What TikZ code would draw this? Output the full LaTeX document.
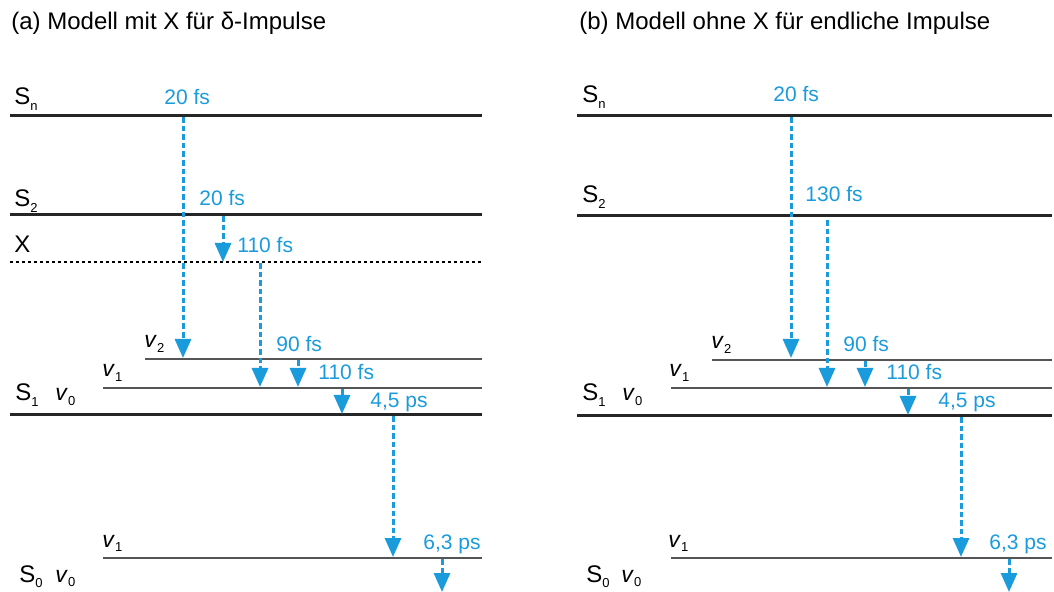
\documentclass[tikz,border=0pt]{standalone}
\usepackage{fontspec}
\setmainfont{Liberation Sans}
\usetikzlibrary{arrows.meta}
\definecolor{decayblue}{HTML}{1A9BDC}
\definecolor{levelgrey}{HTML}{555555}
\newcommand{\lowsub}[1]{\raisebox{-0.4ex}{\fontsize{6.5}{6.5}\selectfont #1}}
\newcommand{\vib}[1]{\textit{v}\lowsub{#1}}

\begin{document}
\begin{tikzpicture}[x=0.5pt, y=-0.5pt, every node/.style={inner sep=0pt, anchor=base west},
                    level/.style={line width=1.5pt, black!85},
                    sublevel/.style={line width=0.9pt, levelgrey},
                    xlevel/.style={line width=1.4pt, dash pattern=on 1.4pt off 1.6pt},
                    decay/.style={decayblue, line width=1.5pt, dash pattern=on 2.8pt off 1.5pt, -{Triangle[width=8pt,length=9.5pt]}},
                    tlbl/.style={text=decayblue, font=\fontsize{10.5}{12}\selectfont},
                    statelbl/.style={font=\fontsize{12}{14}\selectfont},
                    viblbl/.style={font=\fontsize{11.5}{13}\selectfont}]
    \useasboundingbox (0,0) rectangle (1054,592);

    % (a) Modell mit X
    \node (titleA) [font=\fontsize{12}{14}\selectfont] at (11,30) {(a) Modell mit X für δ-Impulse};

    \draw[level] (10,116) -- (482,116);
    \draw[level] (10,215) -- (482,215);
    \draw[xlevel] (10,262) -- (482,262);
    \draw[sublevel] (145,359) -- (482,359);
    \draw[sublevel] (103,388) -- (482,388);
    \draw[level] (10,415) -- (482,415);
    \draw[sublevel] (103,558) -- (482,558);

    \node (aSn) [statelbl] at (14,105) {S\lowsub{n}};
    \node (aS2) [statelbl] at (14,207) {S\lowsub{2}};
    \node (aX) [statelbl] at (14,253) {X};
    \node (aV2) [viblbl] at (144,348) {\vib{2}};
    \node (aV1) [viblbl] at (102,377) {\vib{1}};
    \node (aS1) [statelbl] at (15,401) {S\lowsub{1}};
    \node (aV0) [viblbl] at (55,401) {\vib{0}};
    \node (aV1g) [viblbl] at (102,547) {\vib{1}};
    \node (aS0) [statelbl] at (19,582) {S\lowsub{0}};
    \node (aV0g) [viblbl] at (55,582) {\vib{0}};

    \node (aT1) [tlbl] at (164,105) {20 fs};
    \node (aT2) [tlbl] at (199,206) {20 fs};
    \node (aT3) [tlbl] at (237,253) {110 fs};
    \node (aT4) [tlbl] at (276,352) {90 fs};
    \node (aT5) [tlbl] at (318,380) {110 fs};
    \node (aT6) [tlbl] at (370,408) {4,5 ps};
    \node (aT7) [tlbl] at (423,550) {6,3 ps};

    \coordinate (aSnD) at (183,117);  \coordinate (aV2D) at (183,358);
    \coordinate (aS2D) at (223,216);  \coordinate (aXD) at (223,262);
    \coordinate (aXE) at (260,263);   \coordinate (aV1D) at (260,387);
    \coordinate (aV2E) at (298,360);  \coordinate (aV1E) at (298,387);
    \coordinate (aV1F) at (342,389);  \coordinate (aS1D) at (342,414);
    \coordinate (aS1E) at (393,416);  \coordinate (aS0D) at (393,557);
    \coordinate (aS0E) at (442,559);  \coordinate (aEnd) at (442,592);

    \draw[decay] (aSnD) -- (aV2D);
    \draw[decay] (aS2D) -- (aXD);
    \draw[decay] (aXE) -- (aV1D);
    \draw[decay] (aV2E) -- (aV1E);
    \draw[decay] (aV1F) -- (aS1D);
    \draw[decay] (aS1E) -- (aS0D);
    \draw[decay] (aS0E) -- (aEnd);

    % (b) Modell ohne X
    \node (titleB) [font=\fontsize{12}{14}\selectfont] at (579,30) {(b) Modell ohne X für endliche Impulse};

    \draw[level] (577,116) -- (1052,116);
    \draw[level] (577,216) -- (1052,216);
    \draw[sublevel] (712,360) -- (1052,360);
    \draw[sublevel] (671,388) -- (1052,388);
    \draw[level] (577,416) -- (1052,416);
    \draw[sublevel] (671,558) -- (1052,558);

    \node (bSn) [statelbl] at (582,103) {S\lowsub{n}};
    \node (bS2) [statelbl] at (582,203) {S\lowsub{2}};
    \node (bV2) [viblbl] at (711,349) {\vib{2}};
    \node (bV1) [viblbl] at (669,377) {\vib{1}};
    \node (bS1) [statelbl] at (582,401) {S\lowsub{1}};
    \node (bV0) [viblbl] at (622,401) {\vib{0}};
    \node (bV1g) [viblbl] at (668,547) {\vib{1}};
    \node (bS0) [statelbl] at (586,582) {S\lowsub{0}};
    \node (bV0g) [viblbl] at (621,582) {\vib{0}};

    \node (bT1) [tlbl] at (773,102) {20 fs};
    \node (bT2) [tlbl] at (805,202) {130 fs};
    \node (bT4) [tlbl] at (843,352) {90 fs};
    \node (bT5) [tlbl] at (886,380) {110 fs};
    \node (bT6) [tlbl] at (938,408) {4,5 ps};
    \node (bT7) [tlbl] at (989,550) {6,3 ps};

    \coordinate (bSnD) at (791,117);  \coordinate (bV2D) at (791,358);
    \coordinate (bS2D) at (827,220);  \coordinate (bV1D) at (827,387);
    \coordinate (bV2E) at (865,361);  \coordinate (bV1E) at (865,387);
    \coordinate (bV1F) at (908,389);  \coordinate (bS1D) at (908,415);
    \coordinate (bS1E) at (961,417);  \coordinate (bS0D) at (961,557);
    \coordinate (bS0E) at (1009,559); \coordinate (bEnd) at (1009,592);

    \draw[decay] (bSnD) -- (bV2D);
    \draw[decay] (bS2D) -- (bV1D);
    \draw[decay] (bV2E) -- (bV1E);
    \draw[decay] (bV1F) -- (bS1D);
    \draw[decay] (bS1E) -- (bS0D);
    \draw[decay] (bS0E) -- (bEnd);
\end{tikzpicture}
\end{document}
